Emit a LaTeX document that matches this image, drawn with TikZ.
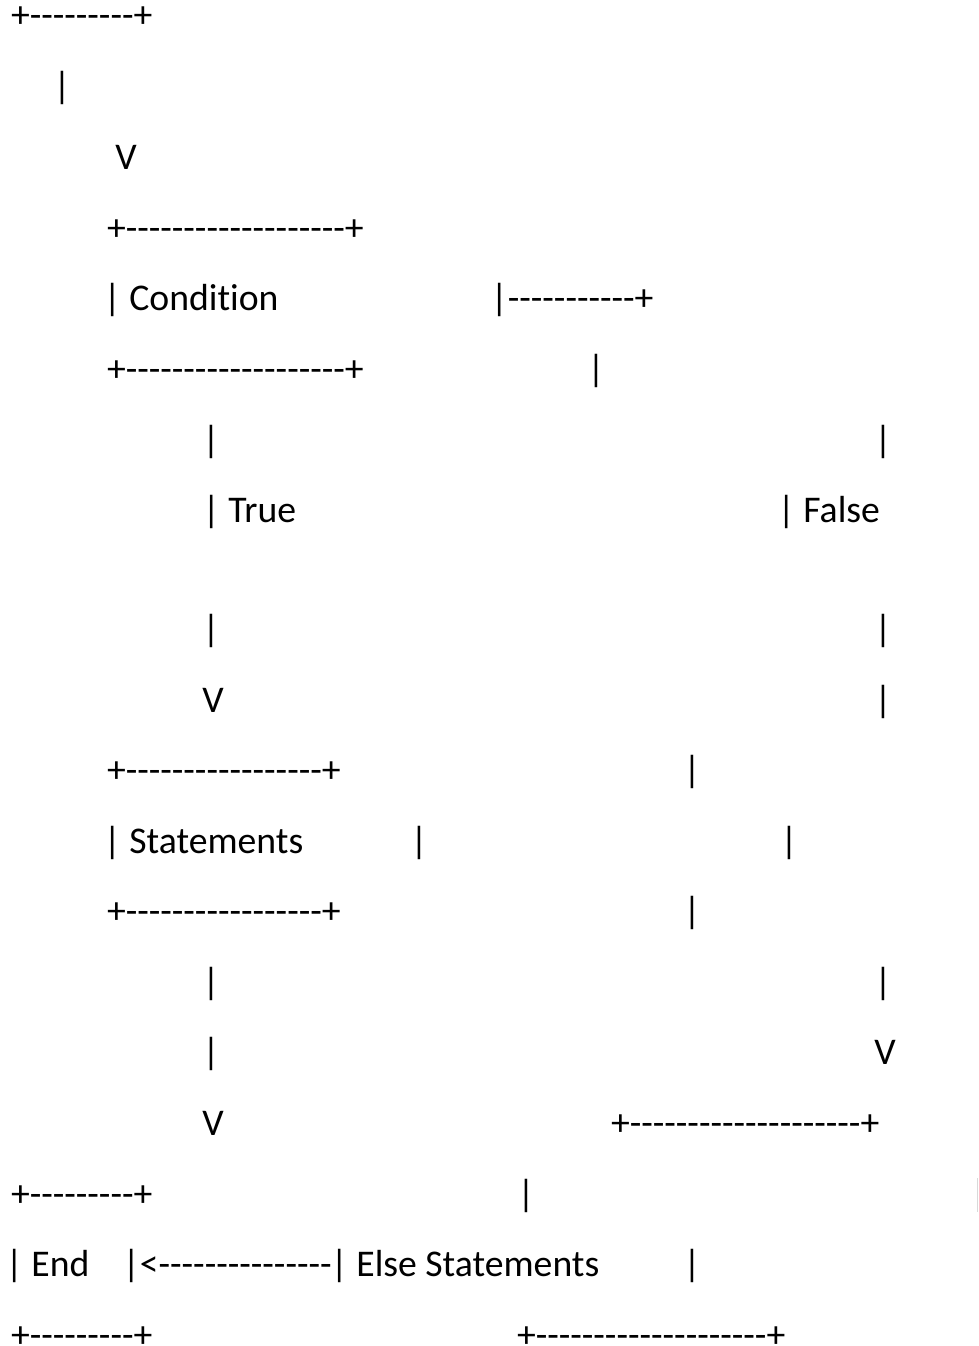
\documentclass[tikz,border=0pt]{standalone}
\usepackage{fontspec}
\setmainfont{Carlito}[Ligatures={TeXOff,CommonOff}]
\tikzset{
  t/.style={inner sep=0pt, outer sep=0pt, font=\fontsize{37.7}{44}\selectfont, anchor=base west},
  bar/.style={t, anchor=base},
}
\begin{document}
\begin{tikzpicture}[x=1pt,y=-1pt]
\useasboundingbox (0,0) rectangle (978,1346);
% row 1
\node[t] (r1a) at (11,28) {+---------+};
% row 2
\node[bar] (r2a) at (62,98) {|};
% row 3
\node[bar] (r3a) at (126,169) {V};
% row 4
\node[t] (r4a) at (107,240) {+-------------------+};
% row 5
\node[t] (r5a) at (103.5,310) {| Condition};
\node[t] (r5b) at (490.5,310) {|-----------+};
% row 6
\node[t] (r6a) at (107,381) {+-------------------+};
\node[bar] (r6b) at (596,381) {|};
% row 7
\node[bar] (r7a) at (211,452) {|};
\node[bar] (r7b) at (883,452) {|};
% row 8
\node[t] (r8a) at (202.5,522) {| True};
\node[t] (r8b) at (777.5,522) {| False};
% row 9
\node[bar] (r9a) at (211,641) {|};
\node[bar] (r9b) at (883,641) {|};
% row 10
\node[bar] (r10a) at (213,712) {V};
\node[bar] (r10b) at (883,712) {|};
% row 11
\node[t] (r11a) at (107,782) {+-----------------+};
\node[bar] (r11b) at (692,782) {|};
% row 12
\node[t] (r12a) at (103.5,853) {| Statements};
\node[bar] (r12b) at (419,853) {|};
\node[bar] (r12c) at (789,853) {|};
% row 13
\node[t] (r13a) at (107,923) {+-----------------+};
\node[bar] (r13b) at (692,923) {|};
% row 14
\node[bar] (r14a) at (211,994) {|};
\node[bar] (r14b) at (883,994) {|};
% row 15
\node[bar] (r15a) at (211,1064) {|};
\node[bar] (r15b) at (885,1064) {V};
% row 16
\node[bar] (r16a) at (213,1135) {V};
\node[t] (r16b) at (611,1135) {+--------------------+};
% row 17
\node[t] (r17a) at (11,1206) {+---------+};
\node[bar] (r17b) at (526,1206) {|};
% row 18
\node[t] (r18a) at (5.5,1276) {| End};
\node[t] (r18b) at (122.5,1276) {|<---------------};
\node[t] (r18c) at (330.5,1276) {| Else Statements};
\node[bar] (r18d) at (692,1276) {|};
% row 19
\node[t] (r19a) at (11,1347) {+---------+};
\node[t] (r19b) at (517,1347) {+--------------------+};
% faint mark at right edge
\draw[black!15, line width=1pt] (977.5,1178) -- (977.5,1212);
\end{tikzpicture}
\end{document}
